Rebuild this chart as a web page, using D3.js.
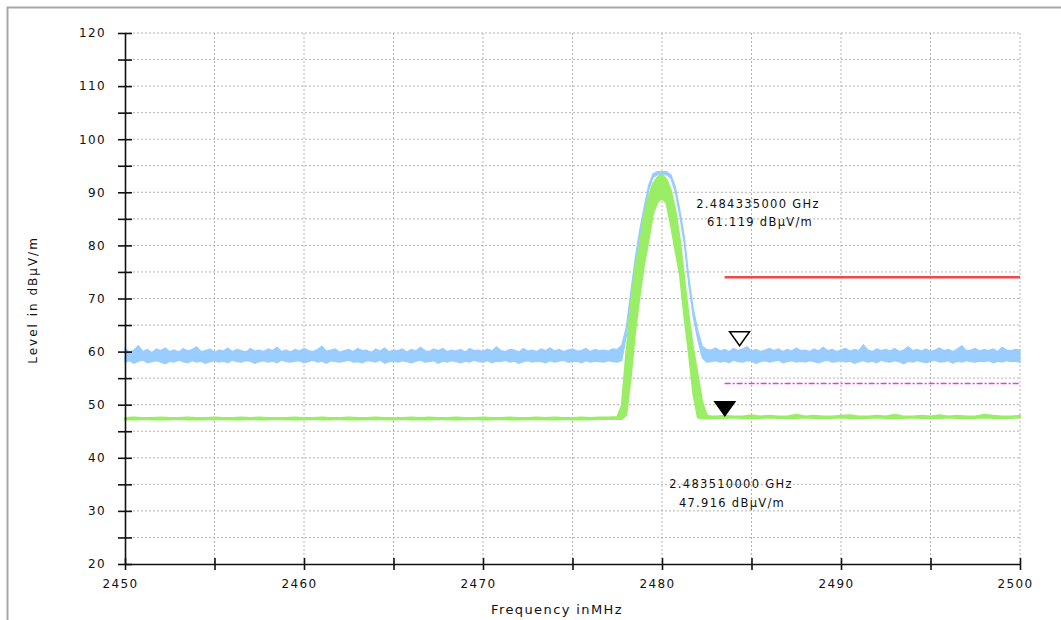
<!DOCTYPE html>
<html>
<head>
<meta charset="utf-8">
<script src="https://d3js.org/d3.v7.min.js"></script>
<style>
  body { margin: 0; background: #fff; }
  #chart { display: block; }
  text { font-family: "DejaVu Sans", sans-serif; fill: #111; }
  .axis text { font-size: 12px; letter-spacing: 1.4px; }
  .axis path, .axis line { stroke: #111; stroke-width: 1.6px; }
  .grid line { stroke: #b4b4b4; stroke-width: 1px; stroke-dasharray: 2,2; }
  .mlabel { font-size: 11.5px; letter-spacing: 1.3px; }
</style>
</head>
<body>
<svg id="chart"></svg>
<script>
// peak trace (blue): sampled every 0.25 MHz from 2450 to 2500 MHz, dBuV/m
var blueStart = 2450, blueStep = 0.25;
var blueMax = [
  // 2450 .. 2477.5
  60.6, 59.9, 60.3, 61.1, 60.0, 60.4, 59.8, 60.5, 60.2, 60.7,
  60.0, 60.3, 59.9, 60.6, 60.1, 60.4, 60.9, 60.0, 60.2, 60.5,
  59.8, 60.3, 60.1, 60.7, 60.0, 60.4, 60.2, 59.9, 60.6, 60.1,
  60.3, 60.0, 60.5, 60.2, 60.8, 60.0, 60.3, 59.9, 60.4, 60.1,
  60.6, 60.2, 60.0, 60.4, 61.0, 60.1, 60.3, 60.5, 59.9, 60.2,
  60.4, 60.0, 60.6, 60.2, 60.3, 59.8, 60.5, 60.1, 60.7, 60.0,
  60.3, 60.2, 60.5, 59.9, 60.4, 60.1, 60.8, 60.2, 60.0, 60.5,
  60.2, 60.6, 60.0, 60.3, 60.1, 60.4, 59.9, 60.6, 60.2, 60.3,
  60.0, 60.5, 60.1, 60.9, 60.2, 60.0, 60.4, 60.3, 59.9, 60.6,
  60.1, 60.3, 60.0, 60.5, 60.2, 60.7, 60.1, 60.4, 60.0, 60.3,
  60.5, 60.1, 60.2, 60.6, 60.0, 60.4, 60.2, 60.3, 60.1, 60.5,
  60.4,
  // 2477.75 .. 2482.5 (carrier)
  61.2, 64.5, 71.0, 77.5, 82.8, 87.2, 91.3, 93.5, 93.9, 93.9,
  93.9, 93.3, 91.0, 86.6, 81.6, 74.0, 68.0, 64.0, 61.0, 60.4,
  // 2482.75 .. 2500
  60.3, 60.7, 60.1, 60.4, 60.0, 60.6, 60.2, 60.5, 60.9, 60.1,
  60.4, 60.0, 60.3, 60.6, 60.2, 60.5, 60.0, 60.4, 60.1, 60.7,
  60.2, 60.3, 60.0, 60.5, 60.1, 60.8, 60.2, 60.4, 60.0, 60.3,
  60.6, 60.1, 60.4, 60.2, 61.3, 60.3, 60.0, 60.5, 60.2, 60.4,
  60.1, 60.6, 60.0, 60.3, 60.9, 60.2, 60.4, 60.1, 60.5, 60.0,
  60.3, 60.7, 60.2, 60.4, 60.0, 60.5, 61.1, 60.2, 60.3, 60.6,
  60.1, 60.4, 60.2, 60.5, 60.0, 60.8, 60.3, 60.2, 60.4, 60.3
];
var blueMin = [
  // 2450 .. 2477.5
  58.0, 58.3, 57.8, 58.2, 58.4, 57.9, 58.1, 58.3, 58.0, 57.7,
  58.2, 58.0, 58.4, 58.1, 57.9, 58.3, 58.0, 58.2, 57.8, 58.1,
  58.3, 58.0, 58.2, 57.9, 58.4, 58.1, 58.0, 58.3, 58.2, 57.8,
  58.1, 58.3, 58.0, 58.2, 57.9, 58.4, 58.1, 58.0, 58.2, 58.3,
  57.9, 58.1, 58.4, 58.0, 58.2, 57.8, 58.3, 58.1, 58.0, 58.2,
  58.4, 58.0, 58.1, 57.9, 58.3, 58.2, 58.0, 58.4, 57.8, 58.1,
  58.2, 58.0, 58.3, 58.1, 57.9, 58.2, 58.4, 58.0, 58.1, 58.3,
  57.8, 58.2, 58.0, 58.3, 58.1, 57.9, 58.2, 58.0, 58.4, 58.1,
  58.0, 58.3, 57.9, 58.2, 58.1, 58.4, 58.0, 58.2, 57.8, 58.1,
  58.3, 58.0, 58.2, 58.1, 57.9, 58.3, 58.0, 58.2, 58.4, 58.0,
  58.1, 58.2, 57.9, 58.3, 58.0, 58.2, 58.1, 58.0, 58.3, 58.1,
  58.0,
  // 2477.75 .. 2482.5 (carrier)
  58.3, 62.8, 69.3, 76.0, 81.5, 86.0, 90.3, 92.8, 93.3, 93.3,
  93.3, 92.6, 90.0, 85.4, 80.2, 72.5, 66.4, 62.2, 58.8, 58.0,
  // 2482.75 .. 2500
  58.1, 58.3, 58.0, 58.2, 57.9, 58.4, 58.1, 58.0, 58.3, 58.2,
  57.8, 58.1, 58.3, 58.0, 58.2, 58.4, 57.9, 58.1, 58.3, 58.0,
  58.2, 58.0, 58.3, 58.1, 57.9, 58.2, 58.4, 58.0, 58.1, 58.3,
  58.0, 58.2, 57.8, 58.1, 58.3, 58.0, 58.2, 57.9, 58.4, 58.1,
  58.0, 58.3, 58.1, 57.7, 58.2, 58.0, 58.3, 58.1, 57.9, 58.2,
  58.4, 58.0, 58.1, 58.3, 57.8, 58.2, 58.0, 58.3, 58.1, 58.0,
  58.2, 58.1, 58.3, 57.9, 58.2, 58.0, 58.3, 58.1, 58.2, 58.0
];

// average trace (green): frequency points (MHz)
var greenFreq = [
  2450, 2450.5, 2451, 2451.5, 2452, 2452.5, 2453, 2453.5, 2454, 2454.5, 2455,
  2455.5, 2456, 2456.5, 2457, 2457.5, 2458, 2458.5, 2459, 2459.5, 2460, 2460.5,
  2461, 2461.5, 2462, 2462.5, 2463, 2463.5, 2464, 2464.5, 2465, 2465.5, 2466,
  2466.5, 2467, 2467.5, 2468, 2468.5, 2469, 2469.5, 2470, 2470.5, 2471, 2471.5,
  2472, 2472.5, 2473, 2473.5, 2474, 2474.5, 2475, 2475.5, 2476, 2476.5, 2477,
  2477.5, 2477.75, 2478, 2478.25, 2478.5, 2478.75, 2479, 2479.25, 2479.5, 2479.75, 2480,
  2480.25, 2480.5, 2480.75, 2481, 2481.25, 2481.5, 2481.75, 2482, 2482.25, 2482.5, 2482.75,
  2483, 2483.5, 2484, 2484.5, 2485, 2485.5, 2486, 2486.5, 2487, 2487.5, 2488, 2488.5,
  2489, 2489.5, 2490, 2490.5, 2491, 2491.5, 2492, 2492.5, 2493, 2493.5, 2494, 2494.5,
  2495, 2495.5, 2496, 2496.5, 2497, 2497.5, 2498, 2498.5, 2499, 2499.5, 2500
];
var greenMax = [
  47.5, 47.6, 47.5, 47.5, 47.6, 47.5, 47.5, 47.6, 47.5, 47.5, 47.6,
  47.5, 47.5, 47.6, 47.5, 47.6, 47.5, 47.5, 47.5, 47.6, 47.5, 47.5,
  47.6, 47.5, 47.5, 47.6, 47.5, 47.5, 47.6, 47.5, 47.5, 47.5, 47.6,
  47.5, 47.6, 47.5, 47.5, 47.6, 47.5, 47.5, 47.6, 47.5, 47.5, 47.6,
  47.5, 47.5, 47.6, 47.5, 47.6, 47.5, 47.5, 47.6, 47.5, 47.6, 47.6,
  47.7, 49.8, 59.5, 68.5, 75.6, 79.9, 85.4, 89.2, 91.6, 92.8, 93.3,
  92.4, 90.3, 86.5, 81.0, 73.5, 66.4, 60.4, 55.5, 50.5, 48.0, 47.8,
  47.8, 47.9, 47.8, 47.8, 48.0, 47.8, 47.9, 47.8, 47.8, 48.1, 47.8, 47.9,
  47.8, 47.8, 47.9, 48.0, 47.8, 47.8, 47.9, 47.8, 48.1, 47.8, 47.8, 47.9,
  47.8, 48.0, 47.8, 47.9, 47.8, 47.8, 48.1, 47.9, 47.8, 47.8, 47.9
];
var greenMin = [
  47.2, 47.2, 47.3, 47.2, 47.2, 47.2, 47.3, 47.2, 47.2, 47.2, 47.3,
  47.2, 47.2, 47.2, 47.3, 47.2, 47.2, 47.3, 47.2, 47.2, 47.2, 47.3,
  47.2, 47.2, 47.3, 47.2, 47.2, 47.2, 47.3, 47.2, 47.2, 47.3, 47.2,
  47.2, 47.2, 47.3, 47.2, 47.2, 47.2, 47.3, 47.2, 47.2, 47.3, 47.2,
  47.2, 47.2, 47.3, 47.2, 47.2, 47.3, 47.2, 47.2, 47.2, 47.3, 47.3,
  47.3, 47.3, 48.0, 55.0, 63.7, 70.5, 76.4, 81.0, 86.0, 88.2, 88.9,
  87.9, 83.8, 79.0, 74.5, 66.5, 59.7, 52.0, 47.6, 47.4, 47.4, 47.4,
  47.5, 47.5, 47.6, 47.5, 47.5, 47.5, 47.6, 47.5, 47.5, 47.5, 47.6, 47.5,
  47.5, 47.5, 47.6, 47.5, 47.5, 47.5, 47.6, 47.5, 47.5, 47.5, 47.6, 47.5,
  47.5, 47.5, 47.6, 47.5, 47.5, 47.5, 47.6, 47.5, 47.5, 47.5, 47.6
];

// limit lines [from MHz, to MHz, level]
var peakLimit = [2483.5, 2500, 74];
var avgLimit = [2483.5, 2500, 54];

// markers
var markers = [
  { f: 2484.335, level: 61.119, filled: false, text: ["2.484335000 GHz", "61.119 dBµV/m"] },
  { f: 2483.51, level: 47.916, filled: true, text: ["2.483510000 GHz", "47.916 dBµV/m"] }
];

var xTicks = d3.range(2450, 2501, 5);
var yTicks = d3.range(20, 121, 5);

var width = 1061, height = 620;
var svg = d3.select('#chart').attr('width', width).attr('height', height);

// outer frame
svg.append('path')
  .attr('d', 'M7.5,' + height + 'V7.5H' + width)
  .attr('fill', 'none')
  .attr('stroke', '#a8a8a8')
  .attr('stroke-width', 2);

var x = d3.scaleLinear().domain([2450, 2500]).range([125, 1020]);
var y = d3.scaleLinear().domain([20, 120]).range([564, 33]);

// grid
var grid = svg.append('g').attr('class', 'grid');
grid.selectAll('.gx').data(xTicks.slice(1))
  .enter().append('line')
    .attr('x1', d => x(d)).attr('x2', d => x(d))
    .attr('y1', y(120)).attr('y2', y(20));
grid.selectAll('.gy').data(yTicks.slice(1))
  .enter().append('line')
    .attr('x1', x(2450)).attr('x2', x(2500))
    .attr('y1', d => y(d)).attr('y2', d => y(d));

var bluePts = blueMax.map((v, i) => ({ f: blueStart + i * blueStep, hi: v, lo: blueMin[i] }));
var greenPts = greenFreq.map((f, i) => ({ f: f, hi: greenMax[i], lo: greenMin[i] }));

var band = d3.area().x(d => x(d.f)).y0(d => y(d.lo)).y1(d => y(d.hi));

svg.append('path').datum(bluePts)
  .attr('d', band)
  .attr('fill', '#99ccff')
  .attr('stroke', '#99ccff')
  .attr('stroke-width', 1.2);

svg.append('path').datum(greenPts)
  .attr('d', band)
  .attr('fill', '#99ee66')
  .attr('stroke', '#99ee66')
  .attr('stroke-width', 2)
  .attr('stroke-linejoin', 'round');

// limits
svg.append('line')
  .attr('x1', x(peakLimit[0])).attr('x2', x(peakLimit[1]))
  .attr('y1', y(peakLimit[2])).attr('y2', y(peakLimit[2]))
  .attr('stroke', '#f04848').attr('stroke-width', 2.5);

svg.append('line')
  .attr('x1', x(avgLimit[0])).attr('x2', x(avgLimit[1]))
  .attr('y1', y(avgLimit[2])).attr('y2', y(avgLimit[2]))
  .attr('stroke', '#ee33ee').attr('stroke-width', 1.6)
  .attr('stroke-dasharray', '6,2,2,2');

// axes
var yAxis = d3.axisLeft(y)
  .tickValues(yTicks)
  .tickSize(7)
  .tickSizeOuter(0)
  .tickPadding(12)
  .tickFormat(d => d % 10 === 0 ? d : '');

var xAxis = d3.axisBottom(x)
  .tickValues(xTicks)
  .tickSize(6)
  .tickSizeOuter(0)
  .tickPadding(9)
  .tickFormat(d => d % 10 === 0 ? d : '');

var gy = svg.append('g')
  .attr('class', 'axis y')
  .attr('transform', 'translate(' + x(2450) + ',0)')
  .call(yAxis);
gy.selectAll('.tick line').attr('x1', 7);

var gx = svg.append('g')
  .attr('class', 'axis x')
  .attr('transform', 'translate(0,' + y(20) + ')')
  .call(xAxis);
gx.selectAll('.tick line').attr('y1', -6);
gx.selectAll('.tick text').attr('dx', -5);
svg.selectAll('.axis').attr('font-family', null).attr('font-size', null);

// axis titles
svg.append('text')
  .attr('x', 557).attr('y', 614)
  .attr('text-anchor', 'middle')
  .style('font-size', '13px')
  .style('letter-spacing', '1.4px')
  .text('Frequency inMHz');

svg.append('text')
  .attr('transform', 'translate(37,300) rotate(-90)')
  .attr('text-anchor', 'middle')
  .style('font-size', '12px')
  .style('letter-spacing', '2px')
  .text('Level in dBµV/m');

// markers: downward triangles with their tip on the measured point
markers.forEach(function (m) {
  var px = x(m.f), py = y(m.level);
  svg.append('path')
    .attr('d', 'M' + (px - 10) + ',' + (py - 14) + 'H' + (px + 10) + 'L' + px + ',' + py + 'Z')
    .attr('fill', m.filled ? '#000' : '#fff')
    .attr('stroke', '#000')
    .attr('stroke-width', 1.5);
});

// marker read-outs
svg.append('g').selectAll('text')
  .data([
    { t: markers[0].text[0], x: 758, y: 208 },
    { t: markers[0].text[1], x: 760, y: 226 },
    { t: markers[1].text[0], x: 731, y: 488 },
    { t: markers[1].text[1], x: 732, y: 507 }
  ])
  .enter().append('text')
    .attr('class', 'mlabel')
    .attr('x', d => d.x).attr('y', d => d.y)
    .attr('text-anchor', 'middle')
    .text(d => d.t);
</script>
</body>
</html>
